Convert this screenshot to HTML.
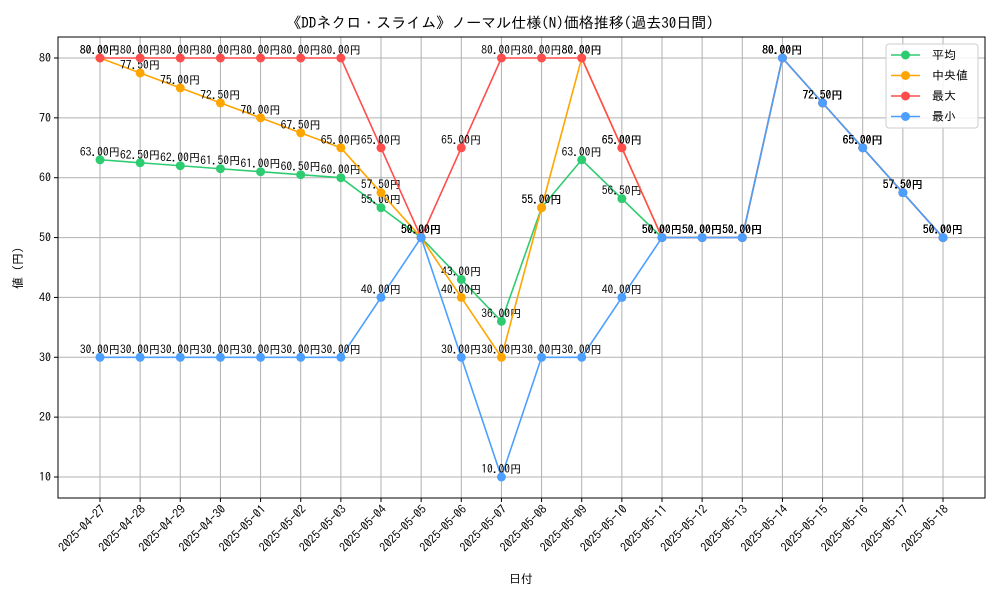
<!DOCTYPE html>
<html><head><meta charset="utf-8"><style>
body{margin:0;background:#fff;}
svg{display:block;font-family:"IPAGothic","Noto Sans CJK JP",sans-serif;}
</style></head><body>
<svg id="chart" width="1000" height="600" viewBox="0 0 1000 600">
<text x="500" y="28" text-anchor="middle" font-size="15">《DDネクロ・スライム》ノーマル仕様(N)価格推移(過去30日間)</text>
<g id="grid"></g>
<rect x="58" y="37" width="927" height="461" fill="none" stroke="#000" stroke-width="1"/>
<g id="xticks"></g><g id="yticks"></g><g id="series"></g>
<text x="521" y="583" text-anchor="middle" font-size="12">日付</text>
<text transform="translate(22,268) rotate(-90)" text-anchor="middle" font-size="12">値 (円)</text>
<g>
<rect x="886" y="44" width="92" height="84" rx="3" fill="#fff" fill-opacity="0.85" stroke="#ccc"/>
</g>
<g id="legend"></g>
</svg>
<script>
const dates=["2025-04-27","2025-04-28","2025-04-29","2025-04-30","2025-05-01","2025-05-02","2025-05-03","2025-05-04","2025-05-05","2025-05-06","2025-05-07","2025-05-08","2025-05-09","2025-05-10","2025-05-11","2025-05-12","2025-05-13","2025-05-14","2025-05-15","2025-05-16","2025-05-17","2025-05-18"];
const avgVals=[63,62.5,62,61.5,61,60.5,60,55,50,43,36,55,63,56.5,50,50,50,80,72.5,65,57.5,50];
const medVals=[80,77.5,75,72.5,70,67.5,65,57.5,50,40,30,55,80,65,50,50,50,80,72.5,65,57.5,50];
const maxVals=[80,80,80,80,80,80,80,65,50,65,80,80,80,65,50,50,50,80,72.5,65,57.5,50];
const minVals=[30,30,30,30,30,30,30,40,50,30,10,30,30,40,50,50,50,80,72.5,65,57.5,50];
const yTicks=[10,20,30,40,50,60,70,80];
const seriesNames=["平均","中央値","最大","最小"];
const NS="http://www.w3.org/2000/svg";
function xS(i){return 100+i*(943-100)/(dates.length-1);}
function yS(v){return 477-(v-10)*(419/70);}
function mk(tag,attrs,parent,text){const e=document.createElementNS(NS,tag);for(const k in attrs)e.setAttribute(k,attrs[k]);if(text!==undefined)e.textContent=text;parent.appendChild(e);return e;}
const grid=document.getElementById('grid'),xt=document.getElementById('xticks'),yt=document.getElementById('yticks');
dates.forEach((d,i)=>{const x=xS(i);
 const g=mk('line',{x1:x,x2:x,y1:37,y2:498,stroke:'#b0b0b0','stroke-width':1},grid);
 
 
 mk('line',{x1:x,x2:x,y1:498,y2:502,stroke:'#000'},xt);
 const t=mk('text',{x:x+6,y:510,'font-size':12,'text-anchor':'end',transform:`rotate(-45 ${x+6} 510)`},xt,d);
 
 
});
yTicks.forEach(v=>{const y=yS(v);
 const g=mk('line',{x1:58,x2:985,y1:y,y2:y,stroke:'#b0b0b0','stroke-width':1},grid);
 
 
 mk('line',{x1:54,x2:58,y1:y,y2:y,stroke:'#000'},yt);
 const t=mk('text',{x:51,y:y+4,'font-size':12,'text-anchor':'end'},yt,String(v));
 
 
});
const all=[avgVals,medVals,maxVals,minVals];
const colors=["#2ecc71","#ffa500","#ff4d4d","#4d9fff"];
const sg=document.getElementById('series');
all.forEach((vals,s)=>{
 const g=mk('g',{},sg);
 
 
 const pts=vals.map((v,i)=>xS(i)+','+yS(v)).join(' ');
 mk('polyline',{points:pts,fill:'none',stroke:colors[s],'stroke-width':1.6},g);
 vals.forEach((v,i)=>{
  const c=mk('circle',{cx:xS(i),cy:yS(v),r:4.5,fill:colors[s]},g);
  
  
  const t=mk('text',{x:xS(i),y:yS(v)-4,'font-size':11.5,'text-anchor':'middle'},g,v.toFixed(2)+'円');
  
  
 });
});
const lg=document.getElementById('legend');
seriesNames.forEach((n,i)=>{const y=55+i*20.5;
 const e=mk('g',{},lg);
 
 
 mk('line',{x1:891,x2:920,y1:y,y2:y,stroke:colors[i],'stroke-width':1.6},e);
 mk('circle',{cx:905.5,cy:y,r:4.5,fill:colors[i]},e);
 mk('text',{x:932,y:y+4,'font-size':12},e,n);
});
</script>
</body></html>
